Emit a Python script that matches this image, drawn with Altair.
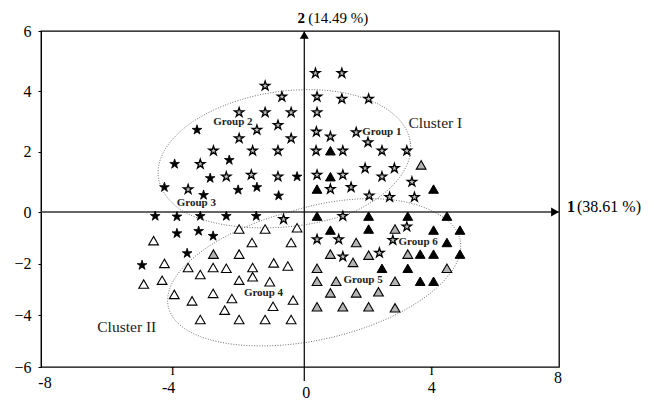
import altair as alt
import numpy as np
import pandas as pd

# ---------------- data ----------------
black_star_x = [-3.26, -3.94, -2.28, -2.86, -0.22, -4.25, -3.06, -2.01, -1.44, -0.78,
                -4.53, -3.87, -3.16, -2.37, -1.46, -3.87, -3.21, -2.77, -3.56, -4.93]
black_star_y = [2.72, 1.59, 1.72, 1.12, 1.17, 0.82, 0.56, 0.73, 0.82, 0.54,
                -0.16, -0.18, -0.16, -0.16, -0.16, -0.83, -0.74, -0.93, -1.60, -2.06]

grey_star_x = [-1.19, -0.68, 0.35, 1.18, 0.40, 1.18, 2.02, -1.98, -1.19, -0.40,
               0.40, -1.44, -0.80, -1.98, -0.40, 0.38, 0.82, 1.63, 2.00, -2.76,
               -1.57, -0.80, 0.37, 1.21, 2.44, 3.22, -3.16, 1.91, 2.83, -2.37,
               -1.61, -0.80, 0.40, 1.21, 2.44, 3.38, -3.53, 0.82, 1.47, 2.04,
               2.68, 3.46, -0.63, 1.21, 3.22, 0.40, 1.08, 2.78, 1.21, 2.36]
grey_star_y = [4.18, 3.82, 4.60, 4.60, 3.82, 3.75, 3.75, 3.30, 3.30, 3.30,
               3.30, 2.72, 2.88, 2.44, 2.44, 2.66, 2.50, 2.64, 2.31, 2.03,
               2.03, 2.03, 2.03, 2.03, 2.03, 2.03, 1.59, 1.45, 1.45, 1.17,
               1.23, 1.17, 1.23, 1.23, 1.17, 1.00, 0.75, 0.76, 0.82, 0.54,
               0.49, 0.49, -0.28, -0.16, -0.57, -1.06, -1.06, -1.09, -1.73, -1.58]

black_tri_x = [0.82, 0.82, 0.40, 4.06, 0.40, 2.02, 3.25, 4.48, 0.82, 2.02,
               4.06, 4.89, 4.48, 3.64, 4.06, 4.89, 2.44, 3.25, 3.64, 4.06]
black_tri_y = [2.03, 1.17, 0.76, 0.76, -0.16, -0.16, -0.16, -0.16, -0.70, -0.66,
               -0.70, -0.70, -1.18, -1.63, -1.63, -1.63, -2.18, -2.18, -2.68, -2.68]

grey_tri_x = [3.67, 2.85, 1.63, 0.82, 1.53, 2.02, 3.25, -2.76, 0.40, 4.48,
              0.40, 1.00, 2.85, 0.82, 1.63, 2.33, 0.40, 1.21, 2.02, 2.85]
grey_tri_y = [1.56, -0.66, -1.18, -1.63, -1.95, -1.67, -1.63, -1.63, -2.18, -2.18,
              -2.68, -2.68, -2.68, -3.13, -3.13, -3.09, -3.67, -3.67, -3.67, -3.71]

white_tri_x = [-1.98, -1.19, -0.22, -4.58, -1.59, -0.40, -1.98, -4.25, -3.53, -3.16,
               -2.77, -2.37, -1.57, -0.93, -0.50, -4.88, -4.32, -1.98, -1.57, -1.05,
               -3.95, -3.41, -2.77, -2.20, -0.34, -0.95, -2.42, -3.16, -1.98, -1.19, -0.40]
white_tri_y = [-0.66, -0.66, -0.61, -1.11, -1.18, -1.18, -1.63, -1.99, -2.15, -2.42,
               -2.15, -2.18, -2.15, -1.97, -2.09, -2.79, -2.64, -2.64, -2.51, -2.70,
               -3.19, -3.44, -3.15, -3.35, -3.41, -3.65, -3.80, -4.16, -4.16, -4.16, -4.16]

# group labels
group_left_text = ["Group 1", "Group 5", "Group 6"]
group_left_x = [1.82, 1.23, 2.96]
group_left_y = [2.64, -2.64, -1.15]
group_center_text = ["Group 2", "Group 3", "Group 4"]
group_center_x = [-2.17, -3.28, -1.24]
group_center_y = [2.99, 0.29, -3.15]

cluster_text = ["Cluster I", "Cluster II"]
cluster_x = [3.27, -6.29]
cluster_y = [2.94, -4.46]

# cluster ellipses: centre and two half-axis vectors (data units)
ellipse_names = ["Cluster I", "Cluster II"]
ellipse_center = [(-0.55, 1.72), (0.38, -2.37)]
ellipse_u = [(3.88, 0.59), (4.51, 1.31)]
ellipse_v = [(-0.30, 2.26), (-0.46, 2.49)]

x_ticks = [-8, -4, 0, 4, 8]
y_ticks = [-6, -4, -2, 0, 2, 4, 6]

# ---------------- styling ----------------
FONT = "Liberation Serif"
STAR = ("M0,-1L0.2245,-0.309L0.9511,-0.309L0.3633,0.118L0.5878,0.809L0,0.382"
        "L-0.5878,0.809L-0.3633,0.118L-0.9511,-0.309L-0.2245,-0.309Z")

xs = alt.Scale(domain=[-8, 0, 8], range=[0, 263.3, 518], nice=False, zero=False)
ys = alt.Scale(domain=[-6, 0, 6], range=[336, 181, 0], nice=False, zero=False)
y_axis = alt.Axis(values=y_ticks, title=None, grid=False, tickSize=3, tickColor="black",
                  domainColor="black", labelFont=FONT, labelFontSize=16, labelColor="black",
                  labelPadding=7, format="d")


def enc(df_chart, xfield="x", yfield="y"):
    return df_chart.encode(
        x=alt.X(f"{xfield}:Q", scale=xs, axis=None),
        y=alt.Y(f"{yfield}:Q", scale=ys, axis=y_axis),
    )


layers = []

# ellipses
ell_rows = []
t = np.linspace(0, 2 * np.pi, 241)
for name, c, u, v in zip(ellipse_names, ellipse_center, ellipse_u, ellipse_v):
    ex = c[0] + u[0] * np.cos(t) + v[0] * np.sin(t)
    ey = c[1] + u[1] * np.cos(t) + v[1] * np.sin(t)
    for i in range(len(t)):
        ell_rows.append({"name": name, "x": ex[i], "y": ey[i], "o": i})
ell_df = pd.DataFrame(ell_rows)
layers.append(
    alt.Chart(ell_df).mark_line(color="#6f6f6f", strokeWidth=1, strokeDash=[1, 1.6])
    .encode(x=alt.X("x:Q", scale=xs, axis=None), y=alt.Y("y:Q", scale=ys, axis=y_axis),
            detail="name:N", order="o:Q")
)

# zero axes
hline = pd.DataFrame({"x": [-8], "x2": [8], "y": [0]})
layers.append(alt.Chart(hline).mark_rule(color="#333", strokeWidth=1.3).encode(
    x=alt.X("x:Q", scale=xs, axis=None), x2="x2:Q", y=alt.Y("y:Q", scale=ys, axis=y_axis)))
vline = pd.DataFrame({"x": [0], "y": [6], "y2": [-6]})
layers.append(alt.Chart(vline).mark_rule(color="#111", strokeWidth=1.3, y2Offset=14).encode(
    x=alt.X("x:Q", scale=xs, axis=None), y=alt.Y("y:Q", scale=ys, axis=y_axis), y2="y2:Q"))

arrow_r = pd.DataFrame({"x": [8], "y": [0]})
layers.append(enc(alt.Chart(arrow_r).mark_point(shape="triangle-right", size=80, filled=True,
                                                color="black", opacity=1, xOffset=-4)))
arrow_u = pd.DataFrame({"x": [0], "y": [6]})
layers.append(enc(alt.Chart(arrow_u).mark_point(shape="triangle-up", size=80, filled=True,
                                                color="black", opacity=1, yOffset=4)))


def points(xv, yv, shape, fill, size, sw):
    df = pd.DataFrame({"x": xv, "y": yv})
    return enc(alt.Chart(df).mark_point(shape=shape, filled=True, color=fill, stroke="black",
                                        strokeWidth=sw, size=size, opacity=1))


layers.append(points(white_tri_x, white_tri_y, "triangle-up", "white", 95, 1.1))
layers.append(points(grey_tri_x, grey_tri_y, "triangle-up", "#b4b4b4", 95, 1.1))
layers.append(points(black_tri_x, black_tri_y, "triangle-up", "black", 95, 1.0))
layers.append(points(grey_star_x, grey_star_y, STAR, "#bdbdbd", 95, 1.3))
layers.append(points(black_star_x, black_star_y, STAR, "black", 105, 0.8))

# group labels
gl = pd.DataFrame({"x": group_left_x, "y": group_left_y, "t": group_left_text})
layers.append(enc(alt.Chart(gl).mark_text(align="left", baseline="middle", font=FONT,
                                          fontSize=11, fontWeight="bold", color="#222"))
              .encode(text="t:N"))
gc = pd.DataFrame({"x": group_center_x, "y": group_center_y, "t": group_center_text})
layers.append(enc(alt.Chart(gc).mark_text(align="center", baseline="middle", font=FONT,
                                          fontSize=11, fontWeight="bold", color="#222"))
              .encode(text="t:N"))
cl = pd.DataFrame({"x": cluster_x, "y": cluster_y, "t": cluster_text})
layers.append(enc(alt.Chart(cl).mark_text(align="left", baseline="middle", font=FONT,
                                          fontSize=15.5, color="#222"))
              .encode(text="t:N"))

# axis titles
ax1 = pd.DataFrame({"x": [8], "y": [0]})
layers.append(enc(alt.Chart(ax1).mark_text(align="center", baseline="middle", font=FONT,
                                           fontSize=16, fontWeight="bold", color="black",
                                           dx=12, dy=-5, text="1")))
layers.append(enc(alt.Chart(ax1).mark_text(align="left", baseline="middle", font=FONT,
                                           fontSize=16, color="black",
                                           dx=18, dy=-5, text="(38.61 %)")))
ax2 = pd.DataFrame({"x": [0], "y": [6]})
layers.append(enc(alt.Chart(ax2).mark_text(align="center", baseline="middle", font=FONT,
                                           fontSize=15, fontWeight="bold", color="black",
                                           dx=-3, dy=-13, text="2")))
layers.append(enc(alt.Chart(ax2).mark_text(align="left", baseline="middle", font=FONT,
                                           fontSize=15, color="black",
                                           dx=4, dy=-13, text="(14.49 %)")))

# x tick labels (staggered as in the original)
x_label_dy = {-8: 16, -4: 21, 0: 26, 4: 21, 8: 11}
x_label_dx = {-8: 4, -4: -4, 0: 2, 4: 0, 8: -1}
for v in x_ticks:
    df = pd.DataFrame({"x": [v], "y": [-6], "t": [str(v)]})
    layers.append(enc(alt.Chart(df).mark_text(align="center", baseline="middle", font=FONT,
                                              fontSize=16, color="black",
                                              dx=x_label_dx[v], dy=x_label_dy[v]))
                  .encode(text="t:N"))
    if v in (-4, 4):
        layers.append(enc(alt.Chart(df).mark_text(align="center", baseline="middle", font=FONT,
                                                  fontSize=13, color="black", dy=4, text="I")))

chart = alt.layer(*layers).properties(
    width=518, height=336,
    autosize=alt.AutoSizeParams(type="none"),
    padding={"left": 33, "top": 23, "right": 87, "bottom": 33},
).configure_view(stroke="black", strokeWidth=1.3).configure_axis(grid=False)

chart.save("out.html", embed_options={"renderer": "svg", "actions": False})
